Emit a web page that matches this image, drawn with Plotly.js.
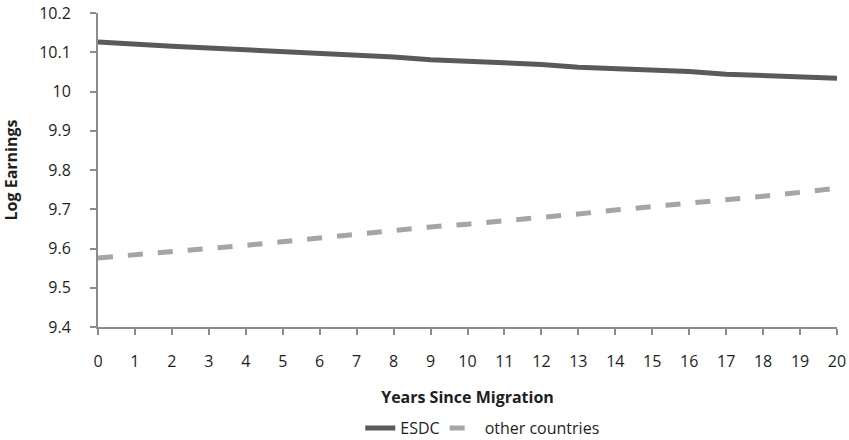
<!DOCTYPE html>
<html>
<head>
<meta charset="utf-8">
<script src="https://cdn.plot.ly/plotly-3.0.1.min.js"></script>
<style>html,body{margin:0;padding:0;background:#fff;}#chart{width:849px;height:440px;}</style>
</head>
<body>
<div id="chart"></div>
<script>
const years = [0,1,2,3,4,5,6,7,8,9,10,11,12,13,14,15,16,17,18,19,20];
const esdc = [10.126,10.119,10.115,10.111,10.107,10.100,10.096,10.092,10.088,10.081,10.078,10.074,10.069,10.062,10.059,10.055,10.051,10.044,10.041,10.037,10.034];
const otherCountries = [9.576,9.585,9.593,9.600,9.608,9.618,9.627,9.637,9.645,9.655,9.662,9.670,9.680,9.688,9.698,9.706,9.714,9.724,9.733,9.743,9.754];
const yTicks = [9.4,9.5,9.6,9.7,9.8,9.9,10,10.1,10.2];
const yTickLabels = ['9.4','9.5','9.6','9.7','9.8','9.9','10','10.1','10.2'];

const font = 'Open Sans, Liberation Sans, sans-serif';
const data = [
  {x: years, y: esdc, name: 'ESDC', mode: 'lines', line: {color: '#5a5a5a', width: 5}},
  {x: years, y: otherCountries, name: 'other countries', mode: 'lines', line: {color: '#a5a5a5', width: 5, dash: 'dash'}}
];
const layout = {
  width: 849, height: 440,
  margin: {l: 98, r: 12, t: 13, b: 113, autoexpand: false},
  paper_bgcolor: '#fff', plot_bgcolor: '#fff',
  font: {family: font, size: 16, color: '#1e1e1e'},
  showlegend: true,
  legend: {orientation: 'h', x: 0.52, xanchor: 'center', y: -0.322, yanchor: 'middle', font: {size: 16, color: '#1e1e1e'}},
  xaxis: {
    range: [0, 20], tickmode: 'array', tickvals: years, ticktext: years.map(String),
    showgrid: false, zeroline: false, showline: true, linecolor: '#8c8c8c', linewidth: 2,
    ticks: 'outside', ticklen: 6, tickwidth: 2, tickcolor: '#8c8c8c', ticklabelstandoff: 13,
    title: {text: '<b>Years Since Migration</b>', font: {size: 16}, standoff: 21}
  },
  yaxis: {
    range: [9.4, 10.2], tickmode: 'array', tickvals: yTicks, ticktext: yTickLabels,
    showgrid: false, zeroline: false, showline: true, linecolor: '#8c8c8c', linewidth: 2,
    ticks: 'outside', ticklen: 6, tickwidth: 2, tickcolor: '#8c8c8c', ticklabelstandoff: 16,
    title: {text: '<b>Log Earnings</b>', font: {size: 16}, standoff: 18}
  }
};
Plotly.newPlot('chart', data, layout, {displayModeBar: false, staticPlot: true});
</script>
</body>
</html>
